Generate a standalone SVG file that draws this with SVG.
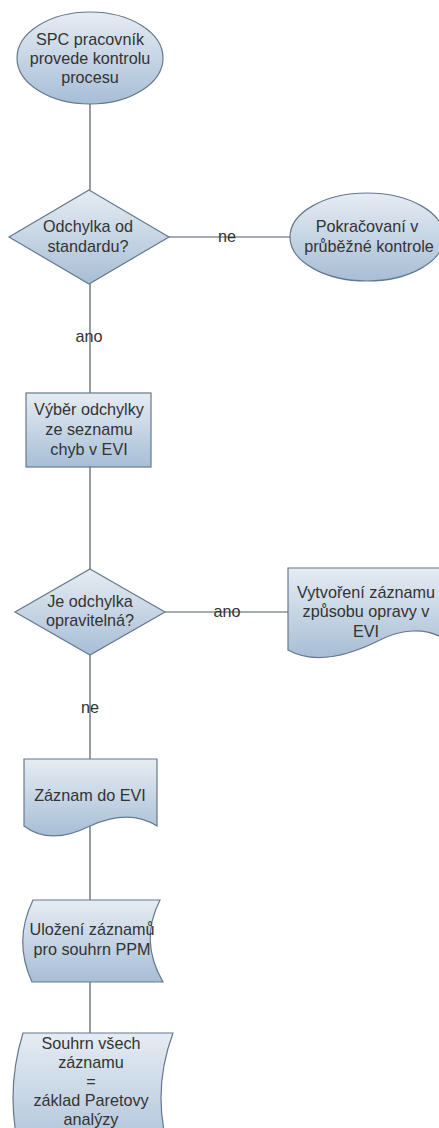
<svg xmlns="http://www.w3.org/2000/svg" width="439" height="1128" viewBox="0 0 439 1128">
  <defs>
    <linearGradient id="fillGrad" x1="0" y1="0" x2="0" y2="1">
      <stop offset="0" stop-color="#e6ecf3"/>
      <stop offset="1" stop-color="#a7bed6"/>
    </linearGradient>
    <style>
      .shape { fill: url(#fillGrad); stroke: #66788c; stroke-width: 1.2; }
      .edge { fill: none; stroke: #555a60; stroke-width: 1.2; }
      text { font-family: "Liberation Sans", Arial, sans-serif; font-size: 16.2px; fill: #333; text-anchor: middle; }
    </style>
  </defs>
  <rect width="439" height="1128" fill="#ffffff"/>

  <!-- connectors -->
  <g id="connectors">
    <line class="edge" x1="90" y1="104" x2="90" y2="190"/>
    <line class="edge" x1="168" y1="237" x2="290" y2="237"/>
    <line class="edge" x1="90" y1="284" x2="90" y2="393"/>
    <line class="edge" x1="90" y1="467" x2="90" y2="569"/>
    <line class="edge" x1="165" y1="612" x2="288" y2="612"/>
    <line class="edge" x1="90" y1="655" x2="90" y2="759"/>
    <line class="edge" x1="90" y1="826" x2="90" y2="900"/>
    <line class="edge" x1="90" y1="982" x2="90" y2="1033"/>
    <text x="227" y="242">ne</text>
    <text x="89" y="342">ano</text>
    <text x="227" y="617">ano</text>
    <text x="90" y="713">ne</text>
  </g>

  <!-- start: SPC worker checks the process -->
  <g id="start">
    <ellipse class="shape" cx="90" cy="58" rx="73" ry="46"/>
    <text x="90" y="45">SPC pracovník</text>
    <text x="90" y="64">provede kontrolu</text>
    <text x="90" y="83">procesu</text>
  </g>

  <!-- decision: deviation from standard -->
  <g id="decision1">
    <polygon class="shape" points="89,190 169,237 89,284 9,237"/>
    <text x="88" y="232">Odchylka od</text>
    <text x="88" y="252">standardu?</text>
  </g>

  <!-- continue regular checks -->
  <g id="continue">
    <ellipse class="shape" cx="367" cy="237" rx="77" ry="44"/>
    <text x="367" y="232">Pokračovaní v</text>
    <text x="369" y="252">průběžné kontrole</text>
  </g>

  <!-- select deviation from EVI list -->
  <g id="select">
    <rect class="shape" x="26" y="393" width="125" height="74"/>
    <text x="89" y="415">Výběr odchylky</text>
    <text x="89" y="435">ze seznamu</text>
    <text x="89" y="455">chyb v EVI</text>
  </g>

  <!-- decision: is deviation repairable -->
  <g id="decision2">
    <polygon class="shape" points="90,569 165,612 90,655 15,612"/>
    <text x="90" y="607">Je odchylka</text>
    <text x="90" y="626">opravitelná?</text>
  </g>

  <!-- repair record document -->
  <g id="repairRecord">
    <path class="shape" d="M288,568 H446 V640 C425,626 400,630 380,640 C360,650 320,668 288,650 Z"/>
    <text x="366" y="598">Vytvoření záznamu</text>
    <text x="366" y="617">způsobu opravy v</text>
    <text x="366" y="637">EVI</text>
  </g>

  <!-- record into EVI document -->
  <g id="eviRecord">
    <path class="shape" d="M24,759 H157 V826 C135,812 112,816 90,826 C70,836 45,842 24,826 Z"/>
    <text x="90" y="801">Záznam do EVI</text>
  </g>

  <!-- stored data: records for PPM summary -->
  <g id="storeRecords">
    <path class="shape" d="M33,900 H160 Q139,941 163,982 H32 Q13,941 33,900 Z"/>
    <text x="92" y="935">Uložení záznamů</text>
    <text x="92" y="955">pro souhrn PPM</text>
  </g>

  <!-- stored data: summary for Pareto analysis -->
  <g id="summary">
    <path class="shape" d="M23,1033 H173 Q149,1098 173,1163 H23 Q3,1098 23,1033 Z"/>
    <text x="91" y="1049">Souhrn všech</text>
    <text x="91" y="1068">záznamu</text>
    <text x="91" y="1087">=</text>
    <text x="91" y="1106">základ Paretovy</text>
    <text x="91" y="1125">analýzy</text>
  </g>
</svg>
